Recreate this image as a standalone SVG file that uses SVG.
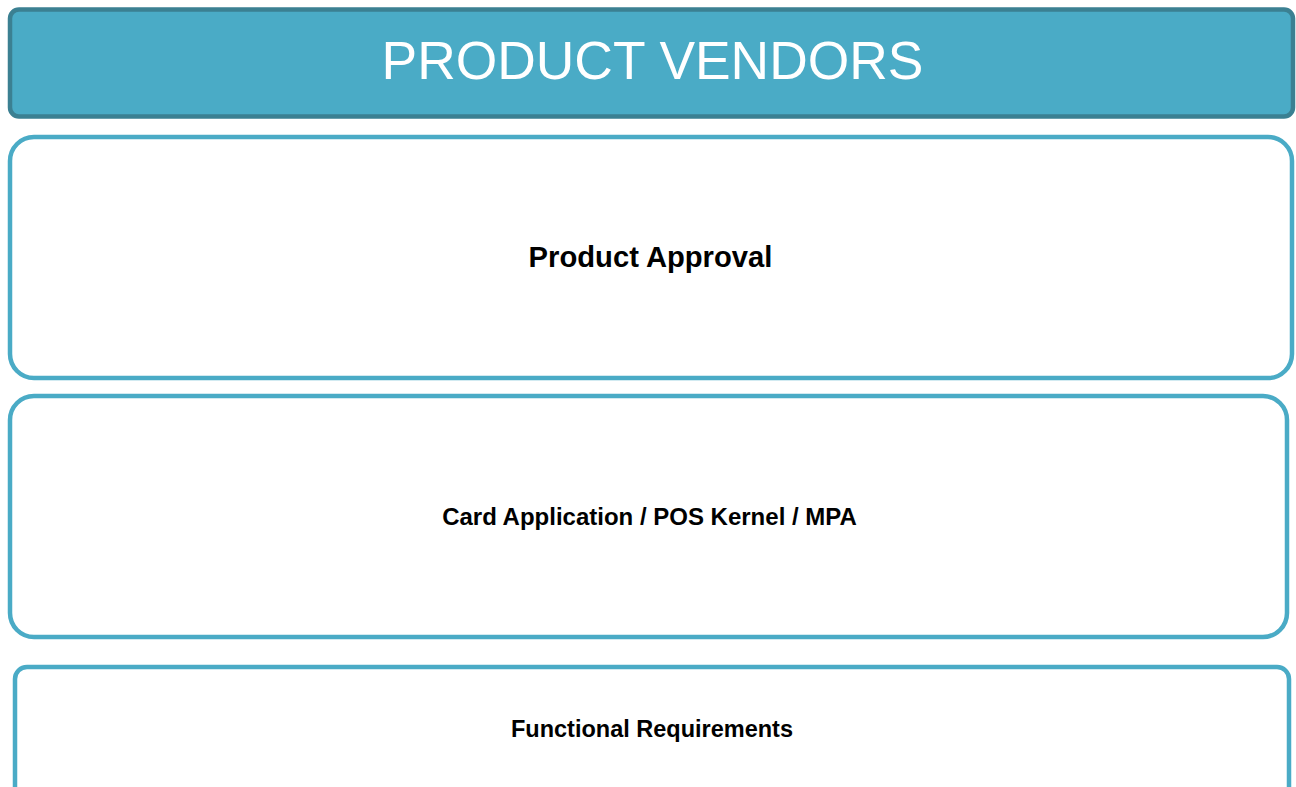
<svg xmlns="http://www.w3.org/2000/svg" width="1296" height="787" viewBox="0 0 1296 787">
<style>
.box{fill:#ffffff;stroke:#4aabc6;stroke-width:4.5}
.lbl{font-family:"Liberation Sans",Arial,sans-serif;font-weight:bold;fill:#000000;text-anchor:middle}
</style>
<rect width="1296" height="787" fill="#ffffff"/>
<g id="header">
<rect x="10" y="9.5" width="1283" height="107" rx="9" fill="#4aabc6" stroke="#3b8092" stroke-width="4.5"/>
<text x="652.5" y="79" font-family="'Liberation Sans',Arial,sans-serif" font-size="53.4" fill="#ffffff" text-anchor="middle">PRODUCT VENDORS</text>
</g>
<g id="product-approval">
<rect class="box" x="10" y="137" width="1282" height="241" rx="24"/>
<text class="lbl" x="650.5" y="267" font-size="29.2">Product Approval</text>
</g>
<g id="card-application">
<rect class="box" x="10" y="396" width="1277" height="241" rx="24"/>
<text class="lbl" x="649.5" y="525" font-size="24">Card Application / POS Kernel / MPA</text>
</g>
<g id="functional-requirements">
<rect class="box" x="15" y="667" width="1274" height="140" rx="12"/>
<text class="lbl" x="652" y="737" font-size="23.5">Functional Requirements</text>
</g>
<g id="connectors"/>
</svg>
